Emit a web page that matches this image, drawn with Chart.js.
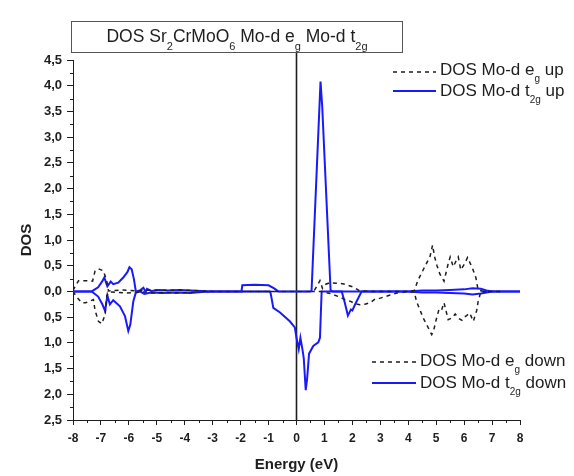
<!DOCTYPE html>
<html>
<head>
<meta charset="utf-8">
<script src="https://cdn.jsdelivr.net/npm/chart.js@4/dist/chart.umd.min.js"></script>
<style>
  body { margin: 0; background: #fff; }
</style>
</head>
<body>
<canvas id="canvas" width="574" height="476"></canvas>
<script>
// values: [energy (eV), DOS]; spin down stored as negative
var egUp = [[-8,0.02],[-7.8,0.21],[-7.5,0.21],[-7.3,0.2],[-7.21,0.4],[-7.09,0.44],[-6.91,0.4],[-6.79,0.2],[-6.73,0.01],
  [-6.5,0.02],[-6.2,0.03],[-6.0,0.02],[-5.7,0.01],[-5.4,0.02],[-5.0,0.03],[-4.6,0.02],[-4.2,0.03],[-3.8,0.02],[-3.4,0.01],
  [-3.0,0],[-2.0,0],[-1.0,0],[0,0],[0.5,0],[0.65,0.03],[0.76,0.13],[0.84,0.21],[0.93,0.06],[1.05,0.14],[1.2,0.17],
  [1.43,0.16],[1.65,0.15],[1.85,0.12],[2.05,0.08],[2.27,0.01],[2.6,0],[3.2,0],[4.0,0],[4.22,0.02],[4.35,0.22],[4.6,0.49],
  [4.78,0.68],[4.87,0.9],[4.95,0.66],[5.03,0.5],[5.13,0.34],[5.28,0.2],[5.43,0.54],[5.5,0.67],[5.61,0.48],[5.72,0.6],
  [5.79,0.67],[5.88,0.42],[6.03,0.55],[6.12,0.66],[6.3,0.45],[6.42,0.27],[6.5,0.03],[6.7,0],[7.3,0]];

var t2gUp = [[-8,0],[-7.33,0],[-7.1,0.08],[-6.95,0.2],[-6.88,0.27],[-6.77,0.1],[-6.65,0.19],[-6.56,0.14],[-6.38,0.17],
  [-6.2,0.27],[-6.05,0.38],[-5.98,0.47],[-5.9,0.43],[-5.82,0.24],[-5.75,0],[-5.6,0.02],[-5.48,0.07],[-5.4,-0.01],
  [-5.35,0.05],[-5.2,0.01],[-4.9,0.03],[-4.6,0.02],[-4.2,0.03],[-3.8,0.02],[-3.4,0.01],[-3.0,0],[-1.97,0],[-1.94,0.12],
  [-1.5,0.13],[-1.0,0.12],[-0.8,0.06],[-0.65,0],[0.5,0],[0.54,0.02],[0.86,4.08],[0.92,3.6],[1.22,0.02],[1.3,0],[4.0,0],
  [4.5,0.02],[5.0,0.02],[5.5,0.03],[6.0,0.04],[6.3,0.06],[6.6,0.05],[6.8,0.02],[7.0,0],[8,0]];

var egDown = [[-8,0],[-7.85,-0.12],[-7.69,-0.22],[-7.55,-0.22],[-7.27,-0.16],[-7.21,-0.37],[-7.09,-0.58],[-6.97,-0.63],
  [-6.85,-0.45],[-6.79,-0.08],[-6.7,-0.01],[-6.4,-0.02],[-6.1,-0.03],[-5.8,-0.02],[-5.5,-0.01],[-5.1,-0.03],[-4.7,-0.02],
  [-4.3,-0.03],[-3.9,-0.02],[-3.5,-0.01],[-3.0,0],[-2.0,0],[-1.0,0],[0,0],[0.9,0],[1.2,-0.04],[1.5,-0.1],[1.7,-0.15],
  [1.92,-0.19],[2.1,-0.24],[2.27,-0.26],[2.45,-0.25],[2.63,-0.22],[2.81,-0.15],[3.0,-0.13],[3.3,-0.08],[3.6,-0.03],
  [4.0,0],[4.22,-0.02],[4.3,-0.2],[4.54,-0.52],[4.84,-0.84],[4.9,-0.78],[5.0,-0.55],[5.1,-0.35],[5.19,-0.37],
  [5.28,-0.22],[5.43,-0.55],[5.55,-0.52],[5.68,-0.44],[5.79,-0.52],[5.92,-0.56],[6.0,-0.5],[6.09,-0.47],[6.2,-0.42],
  [6.33,-0.58],[6.45,-0.37],[6.5,-0.2],[6.6,0],[7.3,0]];

var t2gDown = [[-8,0],[-7.33,0],[-7.1,-0.1],[-6.95,-0.25],[-6.85,-0.38],[-6.77,-0.08],[-6.68,-0.25],[-6.56,-0.17],
  [-6.32,-0.29],[-6.14,-0.48],[-6.02,-0.77],[-5.95,-0.65],[-5.84,-0.19],[-5.75,-0.02],[-5.6,0],[-5.45,-0.05],[-5.2,-0.02],
  [-4.8,-0.03],[-4.3,-0.02],[-3.8,-0.03],[-3.4,-0.01],[-3.0,0],[-0.95,0],[-0.92,-0.05],[-0.83,-0.32],[-0.59,-0.41],
  [-0.24,-0.58],[-0.06,-0.7],[0,-0.9],[0.08,-1.12],[0.14,-0.9],[0.22,-1.15],[0.26,-1.3],[0.33,-1.92],[0.38,-1.7],
  [0.45,-1.21],[0.6,-1.06],[0.78,-0.99],[0.84,-0.9],[0.9,0],[1.62,0],[1.72,-0.2],[1.84,-0.47],[1.95,-0.35],[2.0,-0.37],
  [2.1,-0.25],[2.33,0],[4.0,0],[4.5,-0.02],[5.0,-0.02],[5.5,-0.03],[6.0,-0.04],[6.3,-0.06],[6.6,-0.04],[6.8,-0.02],[7.0,0],[8,0]];

var xRange = [-8, 8];
var yRange = [-2.5, 4.5];

// text pieces: [text, isSubscript]
var titleParts = [['DOS Sr',0],['2',1],['CrMoO',0],['6',1],[' Mo-d e',0],['g',1],[' Mo-d t',0],['2g',1]];
var legendParts = [
  [['DOS Mo-d e',0],['g',1],[' up',0]],
  [['DOS Mo-d t',0],['2g',1],[' up',0]],
  [['DOS Mo-d e',0],['g',1],[' down',0]],
  [['DOS Mo-d t',0],['2g',1],[' down',0]]
];

var FONT = '"Liberation Sans", Arial, sans-serif';
var BLUE = '#1a1af8';
var INK = '#1e1e1e';

function pts(arr) { return arr.map(function(p){ return {x: p[0], y: p[1]}; }); }

function drawRich(ctx, parts, x, y, size, subDrop, center) {
  var sub = Math.round(size * 0.6);
  var w = parts.map(function(p){
    ctx.font = (p[1] ? sub : size) + 'px ' + FONT;
    return ctx.measureText(p[0]).width;
  });
  var total = w.reduce(function(a,b){ return a + b; }, 0);
  var cx = center ? x - total / 2 : x;
  ctx.textBaseline = 'alphabetic';
  ctx.textAlign = 'left';
  parts.forEach(function(p, i){
    ctx.font = (p[1] ? sub : size) + 'px ' + FONT;
    ctx.fillText(p[0], cx, y + (p[1] ? subDrop : 0));
    cx += w[i];
  });
}

var decor = {
  id: 'decor',
  beforeDatasetsDraw: function(chart) {
    var ctx = chart.ctx, xs = chart.scales.x, ys = chart.scales.y, a = chart.chartArea;
    ctx.save();
    // minor ticks
    ctx.strokeStyle = INK; ctx.lineWidth = 1;
    ctx.beginPath();
    for (var v = xRange[0] + 0.5; v < xRange[1]; v += 1) {
      var px = Math.round(xs.getPixelForValue(v)) + 0.5;
      ctx.moveTo(px, a.bottom); ctx.lineTo(px, a.bottom + 3);
    }
    for (var u = yRange[0] + 0.25; u < yRange[1]; u += 0.5) {
      var py = Math.round(ys.getPixelForValue(u)) + 0.5;
      ctx.moveTo(a.left, py); ctx.lineTo(a.left - 3, py);
    }
    ctx.stroke();
    // Fermi level line
    var x0 = xs.getPixelForValue(0);
    ctx.lineWidth = 1.6;
    ctx.beginPath();
    ctx.moveTo(x0, a.top - 7); ctx.lineTo(x0, a.bottom);
    ctx.stroke();
    ctx.restore();
  },
  afterDraw: function(chart) {
    var ctx = chart.ctx;
    ctx.save();
    // title box
    ctx.fillStyle = '#fff';
    ctx.fillRect(71, 21, 331, 31);
    ctx.strokeStyle = '#555'; ctx.lineWidth = 1;
    ctx.strokeRect(71.5, 21.5, 331, 31);
    ctx.fillStyle = INK;
    drawRich(ctx, titleParts, 237, 42, 17.5, 8, true);
    // legends
    var rows = [
      {ds: 0, x1: 393, x2: 436, ly: 72, tx: 440, ty: 75},
      {ds: 1, x1: 393, x2: 436, ly: 91, tx: 440, ty: 96},
      {ds: 2, x1: 372, x2: 416, ly: 362, tx: 420, ty: 366},
      {ds: 3, x1: 372, x2: 416, ly: 383, tx: 420, ty: 388}
    ];
    rows.forEach(function(r){
      var d = chart.data.datasets[r.ds];
      ctx.strokeStyle = d.borderColor;
      ctx.lineWidth = d.borderWidth;
      ctx.setLineDash(d.borderDash || []);
      ctx.beginPath(); ctx.moveTo(r.x1, r.ly); ctx.lineTo(r.x2, r.ly); ctx.stroke();
      ctx.setLineDash([]);
      ctx.fillStyle = INK;
      drawRich(ctx, legendParts[r.ds], r.tx, r.ty, 17, 7, false);
    });
    ctx.restore();
  }
};

function line(label, data, color, dash, width) {
  return { label: label, data: pts(data), borderColor: color, borderWidth: width, borderDash: dash,
           pointRadius: 0, tension: 0, fill: false };
}

new Chart(document.getElementById('canvas').getContext('2d'), {
  type: 'line',
  data: {
    datasets: [
      line('DOS Mo-d eg up', egUp, INK, [4, 4], 1.5),
      line('DOS Mo-d t2g up', t2gUp, BLUE, [], 2),
      line('DOS Mo-d eg down', egDown, INK, [4, 4], 1.5),
      line('DOS Mo-d t2g down', t2gDown, BLUE, [], 2)
    ]
  },
  options: {
    responsive: false,
    animation: false,
    layout: { padding: { left: 0, right: 54, top: 60, bottom: 0 } },
    plugins: { legend: { display: false }, tooltip: { enabled: false } },
    scales: {
      x: {
        type: 'linear', min: xRange[0], max: xRange[1],
        afterFit: function(s){ s.height = 56; },
        ticks: { stepSize: 1, color: INK, padding: 6, maxRotation: 0, font: { family: FONT, size: 12, weight: 'bold' } },
        grid: { drawOnChartArea: false, drawTicks: true, tickLength: 5, tickColor: INK },
        border: { display: true, color: INK, width: 1 },
        title: { display: true, text: 'Energy (eV)', color: INK, padding: { top: 0, bottom: 2 },
                 font: { family: FONT, size: 15, weight: 'bold' } }
      },
      y: {
        type: 'linear', min: yRange[0], max: yRange[1],
        afterFit: function(s){ s.width = 73; },
        ticks: { stepSize: 0.5, color: INK, padding: 5,
                 callback: function(v){ return Math.abs(v).toFixed(1).replace('.', ','); },
                 font: { family: FONT, size: 13, weight: 'bold' } },
        grid: { drawOnChartArea: false, drawTicks: true, tickLength: 6, tickColor: INK },
        border: { display: true, color: INK, width: 1 },
        title: { display: true, text: 'DOS', color: INK, padding: { top: 18, bottom: 0 },
                 font: { family: FONT, size: 15, weight: 'bold' } }
      }
    }
  },
  plugins: [decor]
});
</script>
</body>
</html>
